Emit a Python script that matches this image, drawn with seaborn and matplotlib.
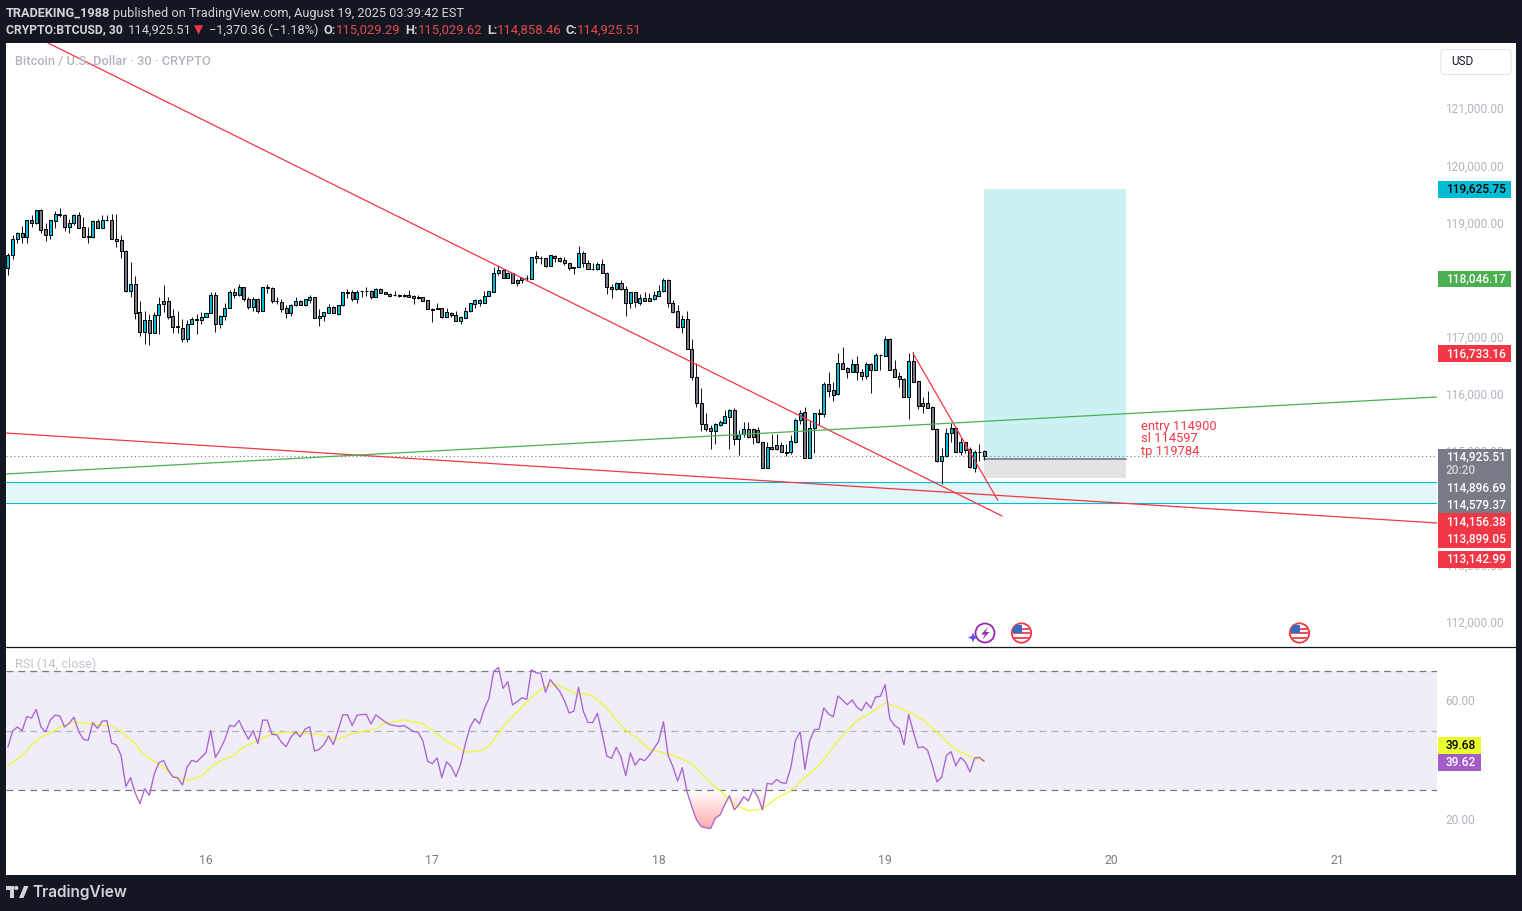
import numpy as np
import pandas as pd
import seaborn as sns
import matplotlib
matplotlib.use("Agg")
import matplotlib.pyplot as plt
from matplotlib.patches import Rectangle, Circle, Polygon, FancyBboxPatch
from matplotlib.transforms import ScaledTranslation

# 30 min candles
opens = [
    118230,118460,118740,118830,118760,119060,119020,119240,118900,118810,119050,119160,
    119150,118950,119020,119150,118940,118780,118760,119050,118930,119060,119060,118740,
    118710,118530,117830,117950,117450,117110,117320,117090,117410,117640,117640,117380,
    117210,117180,116990,117250,117340,117310,117370,117430,117760,117240,117390,117530,
    117800,117760,117890,117690,117550,117690,117480,117890,117870,117655,117630,117520,
    117440,117570,117650,117580,117660,117710,117350,117390,117440,117550,117420,117570,
    117800,117800,117690,117830,117830,117830,117720,117850,117800,117775,117750,117745,
    117745,117745,117730,117710,117710,117660,117500,117520,117520,117360,117440,117410,
    117300,117355,117480,117600,117620,117620,117730,117810,118130,118185,118055,118130,
    118010,118010,118055,118040,118430,118400,118395,118265,118440,118395,118360,118305,
    118235,118235,118480,118305,118205,118200,118290,118130,117885,117860,117955,117850,
    117605,117800,117620,117695,117695,117690,117740,117815,118010,117605,117465,117195,
    117340,116800,116320,115855,115500,115415,115375,115480,115515,115620,115730,115235,
    115310,115400,115400,115380,115185,114730,115090,115120,115120,115010,115005,115185,
    115555,115695,114895,115415,115680,115675,116195,116090,116010,116560,116475,116410,
    116545,116405,116340,116545,116440,116700,116690,116980,116450,116330,116275,115960,
    116595,116240,115855,115855,115790,115400,114850,114925,115340,115415,114995,115170,
    115050,114730,115010,115015,
]
highs = [
    118490,118800,118860,118960,119060,119150,119240,119250,119020,119060,119220,119270,
    119170,119080,119170,119200,119110,118950,119060,119080,119150,119150,119170,119170,
    118800,118540,118330,118080,117650,117470,117420,117460,117710,117920,117710,117500,
    117470,117340,117310,117370,117420,117450,117440,117800,117810,117400,117620,117840,
    117870,117950,117890,117710,117710,117700,117890,117940,117900,117710,117690,117570,
    117590,117720,117660,117680,117760,117720,117500,117460,117590,117560,117570,117800,
    117850,117840,117840,117830,117890,117840,117870,117870,117810,117790,117820,117770,
    117770,117840,117745,117755,117715,117665,117520,117605,117530,117520,117460,117470,
    117385,117535,117620,117690,117675,117820,117820,118250,118280,118200,118160,118130,
    118025,118070,118100,118425,118520,118435,118400,118450,118450,118425,118410,118335,
    118235,118610,118520,118365,118305,118325,118380,118160,117945,117985,118015,117910,
    117810,117800,117765,117805,117780,117825,117920,118050,118025,117660,117580,117400,
    117470,116980,116555,116115,115680,115475,115505,115560,115735,115760,115765,115385,
    115520,115525,115415,115445,115185,115180,115315,115315,115175,115150,115300,115590,
    115735,115785,115560,115680,115750,116235,116410,116235,116735,116845,116495,116625,
    116685,116450,116585,116555,116730,116720,117035,116995,116615,116410,116290,116730,
    116755,116245,115960,116075,115805,115415,115070,115415,115505,115445,115240,115180,
    115085,115035,115140,115030,
]
lows = [
    118100,118380,118670,118670,118670,118950,118990,118840,118700,118740,118930,119120,
    118870,118830,118970,118930,118770,118670,118750,118930,118930,119050,118740,118600,
    118400,117810,117720,117340,117040,116900,116880,117090,117070,117460,117330,117090,
    117090,116930,116930,117240,117070,117240,117370,117430,117110,117170,117310,117530,
    117700,117740,117650,117510,117480,117440,117480,117780,117610,117590,117460,117350,
    117390,117560,117570,117560,117620,117350,117210,117300,117440,117430,117410,117560,
    117700,117650,117620,117720,117740,117690,117720,117790,117775,117720,117740,117710,
    117715,117720,117600,117675,117645,117500,117285,117500,117355,117360,117360,117300,
    117250,117355,117450,117520,117565,117620,117730,117810,118095,118055,118055,117965,
    117915,117965,118000,118040,118305,118300,118250,118260,118335,118335,118275,118190,
    118120,118235,118235,118200,118190,118190,118130,117770,117700,117840,117840,117390,
    117525,117535,117580,117650,117650,117670,117740,117810,117545,117440,117180,117090,
    116800,116265,115795,115375,115375,115055,115140,115455,115505,115055,115125,114950,
    115270,115250,115140,115165,114730,114715,115035,115035,114995,114930,114965,115155,
    115490,114895,114890,114990,115475,115610,115970,115900,116005,116460,116305,116410,
    116265,116265,116285,116040,116440,116440,116690,116445,116320,116145,115960,115585,
    116235,115755,115680,115765,115385,114830,114435,114920,115180,114995,114950,114980,
    114715,114655,114850,114858,
]
closes = [
    118460,118740,118840,118760,119060,119020,119240,118890,118810,119060,119170,119165,
    118950,119020,119150,118930,118770,118770,119050,118930,119060,119060,118740,118700,
    118530,117830,117950,117440,117110,117320,117090,117410,117600,117600,117370,117200,
    117200,116990,117250,117340,117310,117370,117430,117760,117240,117390,117530,117800,
    117760,117890,117690,117550,117690,117480,117890,117880,117650,117650,117510,117440,
    117570,117650,117580,117680,117710,117350,117390,117450,117550,117430,117570,117800,
    117790,117680,117810,117820,117825,117720,117860,117790,117775,117740,117745,117740,
    117740,117720,117705,117705,117645,117500,117495,117500,117360,117450,117405,117300,
    117360,117480,117605,117665,117665,117730,117815,118130,118185,118055,118135,117965,
    117965,118055,118050,118425,118395,118395,118265,118445,118395,118355,118305,118220,
    118230,118480,118305,118200,118200,118295,118130,117885,117860,117955,117850,117605,
    117800,117625,117695,117650,117650,117750,117815,118010,117605,117460,117195,117340,
    116800,116320,115855,115500,115410,115375,115490,115520,115625,115730,115235,115310,
    115400,115260,115260,115180,114730,115090,115050,115050,115005,114990,115190,115555,
    115690,114895,115415,115680,115675,116195,116075,116005,116560,116460,116410,116545,
    116395,116340,116545,116440,116700,116695,116980,116445,116320,116275,115960,116595,
    116235,115815,115815,115780,115400,114850,114925,115330,115415,114995,115170,115040,
    114735,115010,115005,114925,
]
rsi_values = [
    44.6,50.0,51.3,50.1,54.8,54.3,57.2,51.3,49.7,53.7,55.3,55.0,51.3,52.6,54.6,49.8,47.2,46.8,52.8,50.8,
    53.3,53.4,45.9,45.3,41.7,31.3,34.3,29.1,25.6,30.6,28.4,35.4,39.3,40.1,36.8,34.5,34.3,31.8,38.0,40.1,
    39.6,41.1,42.7,50.1,41.1,43.8,47.1,51.8,51.5,53.5,50.1,47.2,50.1,45.7,53.6,53.6,48.8,48.7,46.2,44.7,
    47.9,49.6,48.0,50.6,51.4,43.2,43.8,45.4,48.3,45.4,50.2,55.4,55.4,51.8,55.2,55.5,55.5,52.3,55.4,54.2,
    53.0,52.1,51.8,51.5,51.8,50.8,49.8,49.6,46.6,39.8,39.0,40.9,34.3,39.6,38.0,34.7,38.8,45.7,51.3,54.1,
    52.4,57.4,60.9,69.9,71.3,
    64.3,66.5,58.7,59.8,61.1,60.6,70.5,69.5,69.3,62.9,67.2,65.2,63.3,60.2,56.0,56.6,64.6,56.6,52.8,52.8,
    55.9,49.0,41.5,40.8,44.5,41.3,35.0,42.6,38.5,40.7,40.0,41.8,44.1,46.5,53.1,41.7,38.0,33.2,37.6,29.6,
    24.6,20.2,17.9,17.5,17.2,20.7,21.8,25.2,28.3,23.5,25.2,27.9,26.5,30.4,27.9,23.5,32.4,32.1,33.7,32.6,
    32.4,37.6,46.8,49.7,37.1,46.6,50.4,50.6,57.7,55.7,54.7,61.7,60.3,58.8,60.4,58.0,56.8,59.6,57.7,61.4,
    61.6,65.5,54.1,51.8,50.8,45.4,55.5,49.6,44.3,44.7,43.5,38.5,32.9,34.5,41.7,43.0,38.3,41.1,39.6,36.2,
    40.9,41.1,39.8,
]
# yellow RSI average, read at its turning points
ma_bars = [-42,-39,-37,-35,-33,-31,-28,-25,-22,-20,-18,-17,-15,-14,-12,-9,-7,-4,-1,1,3,6,8,11,14,17,20,24,28,31,
           36,38,42,46,50,55,58,60,62,64,68,71,74,78,82,85,89,92,94,99,103,106,110,112,115,118,121,124,126,130,
           135,138,140,144,147,148,152,155,159,162,165]
ma_values = [38.3,41.8,45.2,47.9,49.3,51.3,53.0,52.4,51.8,51.7,49.9,48.2,45.7,43.3,40.7,37.9,34.8,33.3,34.8,37.9,
             39.9,41.8,44.6,46.8,49.1,49.6,49.3,48.8,47.2,49.1,50.7,52.6,53.7,52.4,47.7,42.9,43.2,44.8,49.1,53.2,
             59.6,64.1,65.7,62.9,61.8,57.4,50.2,46.8,43.8,41.8,39.0,34.0,28.5,25.2,23.2,23.8,27.4,29.9,32.9,38.5,
             48.5,53.5,55.2,59.3,57.9,57.1,53.8,49.6,43.7,41.5,39.8]

# 114,000 and 118,000 sit fully under the tags in the picture
price_ticks = [112000,113000,115000,116000,117000,119000,120000,121000]
rsi_ticks = [20, 60]
day_ticks = [0, 48, 96, 144, 192, 240]
day_labels = ["16", "17", "18", "19", "20", "21"]

# drawings
trend_a_x, trend_a_y = [-33.5, 168.8], [122164, 113882]
trend_b_x, trend_b_y = [-42.4, 261.0], [115335, 113760]
trend_c_x, trend_c_y = [149.9, 167.9], [116733, 114156]
trend_g_x, trend_g_y = [-42.4, 261.0], [114618, 115966]
band_low, band_high = 114105, 114478
pos_x = [165.0, 195.1]
pos_tp, pos_entry, pos_sl = 119600, 114880, 114555
last_price = 114925.51
notes = ["entry 114900", "sl 114597", "tp 119784"]
note_prices = [115450, 115245, 115020]

W, H = 1522, 911
DARK = "#131722"
UP = "#00bcd4"
DOWN = "#787b86"
RED = "#f23645"
AXIS_TXT = "#b2b5be"

sns.set_theme(style="white")
plt.rcParams["font.family"] = ["Roboto", "DejaVu Sans"]


def px_axes(fig, x0, y0, x1, y1, **kw):
    return fig.add_axes([x0 / W, 1 - y1 / H, (x1 - x0) / W, (y1 - y0) / H], **kw)


df = pd.DataFrame({"bar": np.arange(-42, 166), "open": opens, "high": highs,
                   "low": lows, "close": closes, "rsi": rsi_values})
df["bottom"] = df[["open", "close"]].min(axis=1)
df["size"] = (df["open"] - df["close"]).abs()
df["color"] = np.where(df["close"] >= df["open"], UP, DOWN)

fig = plt.figure(figsize=(W / 100, H / 100), dpi=100, facecolor=DARK)
fig.add_artist(Rectangle((6 / W, 1 - 875 / H), 1510 / W, 832 / H, transform=fig.transFigure,
                         facecolor="white", edgecolor="none", zorder=-1))

# price pane
ax = px_axes(fig, 6, 43, 1437, 646, facecolor="none")
ax.axhspan(band_low, band_high, facecolor="#e3f6fa", edgecolor="none", zorder=1)
ax.axhline(band_low, color=UP, lw=0.8, zorder=1.5)
ax.axhline(band_high, color=UP, lw=0.8, zorder=1.5)
ax.add_patch(Rectangle((pos_x[0], pos_entry), pos_x[1] - pos_x[0], pos_tp - pos_entry,
                       facecolor="#cbf1f5", edgecolor="none", zorder=1))
ax.add_patch(Rectangle((pos_x[0], pos_sl), pos_x[1] - pos_x[0], pos_entry - pos_sl,
                       facecolor="#e1e2e4", edgecolor="none", zorder=1))
ax.plot(pos_x, [pos_entry, pos_entry], color="#787b86", lw=1.2, zorder=1.6)
ax.axhline(last_price, color="#787b86", lw=0.8, ls=(0, (1, 2.5)), zorder=1.7)

ax.vlines(df["bar"], df["low"], df["high"], color="#131722", lw=0.72, zorder=2)
ax.bar(df["bar"], df["size"], bottom=df["bottom"], width=0.64, color=df["color"],
       edgecolor="black", linewidth=0.72, zorder=3)

for tx, ty, col in [(trend_a_x, trend_a_y, RED), (trend_b_x, trend_b_y, RED),
                    (trend_c_x, trend_c_y, RED), (trend_g_x, trend_g_y, "#4caf50")]:
    sns.lineplot(x=tx, y=ty, ax=ax, color=col, linewidth=0.9, zorder=4, legend=False)

for note, price in zip(notes, note_prices):
    ax.text(198.3, price, note, color=RED, fontsize=9.25, va="center", ha="left", zorder=5)

ax.set_xlim(-42.41, 261.03)
ax.set_ylim(111606, 122164)
ax.set_xticks([])
ax.yaxis.tick_right()
ax.set_yticks(price_ticks)
ax.set_yticklabels([f"{v:,.2f}" for v in price_ticks], color=AXIS_TXT, fontsize=8.6)
ax.tick_params(axis="y", length=0, pad=6)
ax.set_xlabel("")
ax.set_ylabel("")
sns.despine(ax=ax, left=True, right=True, top=True, bottom=True)

# RSI pane
ax2 = px_axes(fig, 6, 647, 1437, 850, facecolor="none")
ax2.axhspan(30, 70, facecolor="#f0ecf8", edgecolor="none", zorder=1)
ax2.axhline(70, color="#787b86", lw=0.9, ls=(0, (5.5, 4)), zorder=1.5)
ax2.axhline(50, color="#787b86", lw=0.9, ls=(0, (5.5, 4)), alpha=0.5, zorder=1.5)
ax2.axhline(30, color="#787b86", lw=0.9, ls=(0, (5.5, 4)), zorder=1.5)

dip = df[(df["bar"] >= 100) & (df["bar"] <= 120)]
shade = ax2.fill_between(dip["bar"], dip["rsi"].clip(upper=30), 30, facecolor="none", edgecolor="none")
ramp = np.zeros((128, 1, 4))
ramp[..., 0], ramp[..., 1], ramp[..., 2] = 1.0, 0.32, 0.32
ramp[:, 0, 3] = np.linspace(0.0, 0.5, 128)
im = ax2.imshow(ramp, extent=(100, 120, 17, 30), origin="upper", aspect="auto", zorder=2)
im.set_clip_path(shade.get_paths()[0], transform=ax2.transData)

sns.lineplot(x=ma_bars, y=ma_values, ax=ax2, color="#eef83c", linewidth=0.95, zorder=3, legend=False)
sns.lineplot(data=df, x="bar", y="rsi", ax=ax2, color="#a864cf", linewidth=0.95, zorder=4, legend=False)

ax2.set_xlim(-42.41, 261.03)
ax2.set_ylim(10.03, 78.15)
ax2.yaxis.tick_right()
ax2.set_yticks(rsi_ticks)
ax2.set_yticklabels([f"{v:.2f}" for v in rsi_ticks], color=AXIS_TXT, fontsize=8.6)
ax2.set_xticks(day_ticks)
ax2.set_xticklabels(day_labels, color="#787b86", fontsize=8.8)
ax2.tick_params(axis="y", length=0, pad=6)
ax2.tick_params(axis="x", length=0, pad=3)
ax2.set_xlabel("")
ax2.set_ylabel("")
sns.despine(ax=ax2, left=True, right=True, top=True, bottom=True)

# the axis text sits a pixel higher than matplotlib centres it
nudge = ScaledTranslation(0, 1.3 / 100, fig.dpi_scale_trans)
for a in [ax, ax2]:
    for lab in a.get_yticklabels():
        lab.set_transform(lab.get_transform() + nudge)

# chrome on top of the panes, one unit is one pixel here
top = px_axes(fig, 0, 0, W, H, facecolor="none", zorder=10)
top.set_xlim(0, W)
top.set_ylim(H, 0)
top.axis("off")
top.plot([6, 1516], [646.5, 646.5], color="#131722", lw=0.9)

HEAD = "#d1d4dc"
top.text(6, 13, "TRADEKING_1988", color=HEAD, fontsize=9.2, weight="bold", va="center")
top.text(113, 13, "published on TradingView.com, August 19, 2025 03:39:42 EST", color=HEAD, fontsize=9.15, va="center")
top.text(6, 30, "CRYPTO:BTCUSD, 30", color=HEAD, fontsize=8.75, weight="bold", va="center")
top.text(128, 30, "114,925.51", color=HEAD, fontsize=9.3, va="center")
top.text(194, 30, "▼", color=RED, fontsize=8.5, va="center")
top.text(209, 30, "−1,370.36 (−1.18%)", color=HEAD, fontsize=9.2, va="center")
for lab, lx, val, vx in [("O:", 323, "115,029.29", 336), ("H:", 405, "115,029.62", 418),
                         ("L:", 487, "114,858.46", 497), ("C:", 565, "114,925.51", 577)]:
    top.text(lx, 30, lab, color=HEAD, fontsize=9.2, weight="bold", va="center")
    top.text(vx, 30, val, color="#e5484d", fontsize=9.4, va="center")

top.text(15, 61, "Bitcoin / U.S. Dollar · 30 · CRYPTO", color="#b2b5be", fontsize=9.25, weight="medium", va="center")
top.text(15, 664, "RSI (14, close)", color="#c3c5cc", fontsize=9.2, va="center")

top.add_patch(FancyBboxPatch((1441, 49.5), 70, 25, boxstyle="round,pad=0,rounding_size=3",
                             facecolor="white", edgecolor="#e0e3eb", lw=0.8))
top.text(1451, 61.5, "USD", color=DARK, fontsize=8.5, va="center")

# price tags: (top, bottom, right, colour), then (y, text, colour)
for y0, y1, x1, col in [(181, 198, 1511, UP), (271, 287, 1511, "#4caf50"), (345, 362, 1511, RED),
                        (449, 513, 1511, DOWN), (513, 548, 1511, RED), (551, 568, 1511, RED),
                        (737, 754, 1481, "#e8fc30"), (754, 771, 1481, "#a35bc8")]:
    top.add_patch(Rectangle((1438, y0), x1 - 1438, y1 - y0, facecolor=col, edgecolor="none"))
tags = [(189, "119,625.75", "black"), (279, "118,046.17", "white"), (353.5, "116,733.16", "white"),
        (456.5, "114,925.51", "white"), (471, "20:20", "#d1d4dc"), (488, "114,896.69", "white"),
        (504.5, "114,579.37", "white"), (521.5, "114,156.38", "white"), (538.5, "113,899.05", "white"),
        (559, "113,142.99", "white"), (745.5, "39.68", "black"), (762.5, "39.62", "white")]
for y, txt, col in tags:
    top.text(1446, y, txt, color=col, fontsize=8.6, weight="medium", va="center")

# event icons
top.add_patch(Circle((985, 633), 9.5, facecolor="white", edgecolor="#9c27b0", lw=1.3))
top.add_patch(Polygon([(988, 627), (981, 634.5), (985, 634.5), (982.5, 639.5), (989.5, 632), (985.5, 632)],
                      facecolor="#9c27b0", edgecolor="none"))
top.add_patch(Polygon([(973, 632.5), (974.3, 636), (978, 637.5), (974.3, 639), (973, 642.5),
                       (971.7, 639), (968, 637.5), (971.7, 636)], facecolor="#5b4dff", edgecolor="none"))
for cx in [1021.5, 1299.5]:
    ring = Circle((cx, 633), 9.7, facecolor="white", edgecolor=RED, lw=1.3)
    top.add_patch(ring)
    for dy in [-4.5, 0, 4.5]:
        stripe = Rectangle((cx - 9, 632 + dy), 18, 2.2, facecolor="#f0505c", edgecolor="none")
        top.add_patch(stripe)
        stripe.set_clip_path(ring)
    canton = Rectangle((cx - 9, 624.5), 9, 8, facecolor="#2e6fc0", edgecolor="none")
    top.add_patch(canton)
    canton.set_clip_path(ring)

# footer logo
FOOT = "#d1d4dc"
top.add_patch(Polygon([(6, 886), (13.5, 886), (13.5, 898), (10, 898), (10, 890), (6, 890)], facecolor=FOOT, edgecolor="none"))
top.add_patch(Circle((16.3, 888), 2.1, facecolor=FOOT, edgecolor="none"))
top.add_patch(Polygon([(19, 898), (24, 886), (28.5, 886), (23.5, 898)], facecolor=FOOT, edgecolor="none"))
top.text(32.5, 892.5, "TradingView", color=FOOT, fontsize=11.1, family="Inter", weight="semibold", va="center")

fig.savefig("out.png", dpi=100, facecolor=DARK)
